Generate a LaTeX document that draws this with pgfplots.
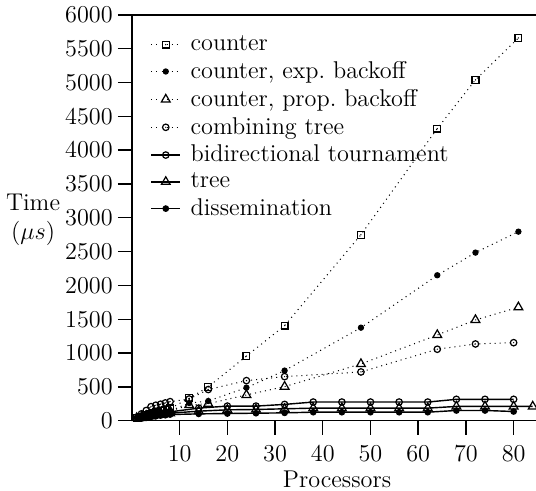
\documentclass[border=0pt]{standalone}
\usepackage{pgfplots}
\pgfplotsset{compat=1.18}
\pgfdeclareplotmark{sqdot}{%
  \pgfpathrectangle{\pgfpoint{-\pgfplotmarksize}{-\pgfplotmarksize}}{\pgfpoint{2\pgfplotmarksize}{2\pgfplotmarksize}}%
  \pgfusepathqstroke
  \pgfpathcircle{\pgfpointorigin}{0.35pt}\pgfusepathqfill}
\pgfdeclareplotmark{circdot}{%
  \pgfpathcircle{\pgfpointorigin}{\pgfplotmarksize}\pgfusepathqstroke
  \pgfpathcircle{\pgfpointorigin}{0.35pt}\pgfusepathqfill}

\pgfplotstableread{
x y
1 40
2 60
3 80
4 100
5 120
6 140
7 160
8 180
12 330
16 500
24 955
32 1405
48 2750
64 4320
72 5040
81 5660
}\counter
\pgfplotstableread{
x y
1 40
2 55
3 70
4 85
5 100
6 115
7 130
8 145
12 260
16 290
24 488
32 740
48 1375
64 2150
72 2485
81 2795
}\expback
\pgfplotstableread{
x y
1 40
2 55
3 70
4 85
5 100
6 115
7 130
8 140
12 230
16 250
24 380
32 503
48 838
64 1267
72 1489
81 1677
}\propback
\pgfplotstableread{
x y
2 100
3 150
4 207
5 228
6 243
7 262
8 281
12 320
16 460
24 592
32 651
48 720
64 1056
72 1134
80 1153
}\combtree
\pgfplotstableread{
x y
2 50
3 70
4 85
5 100
6 110
7 120
8 130
14 185
20 215
26 215
32 240
38 275
44 275
50 275
56 275
62 275
68 315
74 315
80 315
}\bidir
\pgfplotstableread{
x y
2 40
3 55
4 65
5 80
6 90
7 100
8 110
14 140
20 160
26 165
32 175
38 185
44 185
50 185
56 185
62 185
68 210
74 210
80 210
84 210
}\tree
\pgfplotstableread{
x y
2 30
3 45
4 55
5 65
6 75
7 80
8 90
14 100
20 105
26 110
32 115
38 125
44 125
50 125
56 125
62 125
68 150
74 150
80 135
}\dissem

\begin{document}
\begin{tikzpicture}
\begin{axis}[
  font=\large,
  scale only axis, width=203.1pt, height=200.8pt,
  xmin=0, xmax=86, ymin=0, ymax=6000,
  xtick={10,20,...,80}, ytick={0,500,...,6000},
  tick align=outside, xtick pos=bottom, ytick pos=left,
  major tick length=7pt,
  axis line style={line width=0.7pt},
  every tick/.style={line width=0.7pt, black},
  scaled y ticks=false,
  yticklabel style={/pgf/number format/1000 sep={}, xshift=1pt},
  xticklabel style={yshift=-2pt},
  xlabel={Processors},
  xlabel style={yshift=2pt},
  ylabel={Time\\($\mu s$)},
  ylabel style={rotate=-90, align=center, at={(axis description cs:-0.241,0.495)}, anchor=center},
  legend cell align=left,
  legend style={draw=none, fill=none, at={(axis description cs:0.03,0.97)}, anchor=north west, row sep=-0.1pt},
  legend image code/.code={\draw[mark repeat=2,mark phase=2,#1] plot coordinates {(0cm,0cm) (0.25cm,0cm) (0.5cm,0cm)}; \path (0.6cm,0);},
]
\addplot[black, dotted, line width=0.5pt, mark=sqdot, mark size=1.7pt, mark options={solid, line width=0.6pt}] table {\counter};
\addlegendentry{counter}
\addplot[black, dotted, line width=0.5pt, mark=*, mark size=1.3pt, mark options={solid}] table {\expback};
\addlegendentry{counter, exp.\ backoff}
\addplot[black, dotted, line width=0.5pt, mark=triangle, mark size=2.5pt, mark options={solid, line width=0.6pt}] table {\propback};
\addlegendentry{counter, prop.\ backoff}
\addplot[black, dotted, line width=0.5pt, mark=circdot, mark size=1.6pt, mark options={solid, line width=0.6pt}] table {\combtree};
\addlegendentry{combining tree}
\addplot[black, line width=0.7pt, mark=o, mark size=1.6pt, mark options={line width=0.6pt}] table {\bidir};
\addlegendentry{bidirectional tournament}
\addplot[black, line width=0.7pt, mark=triangle, mark size=2.5pt, mark options={line width=0.6pt}] table {\tree};
\addlegendentry{tree}
\addplot[black, line width=0.7pt, mark=*, mark size=1.3pt] table {\dissem};
\addlegendentry{dissemination}
\end{axis}
\draw[line width=0.7pt] (0,200.8pt) -- (203.1pt,200.8pt);
\pgfresetboundingbox
\useasboundingbox (-65.3pt,-34.8pt) rectangle (200pt,208.2pt);
\end{tikzpicture}
\end{document}
